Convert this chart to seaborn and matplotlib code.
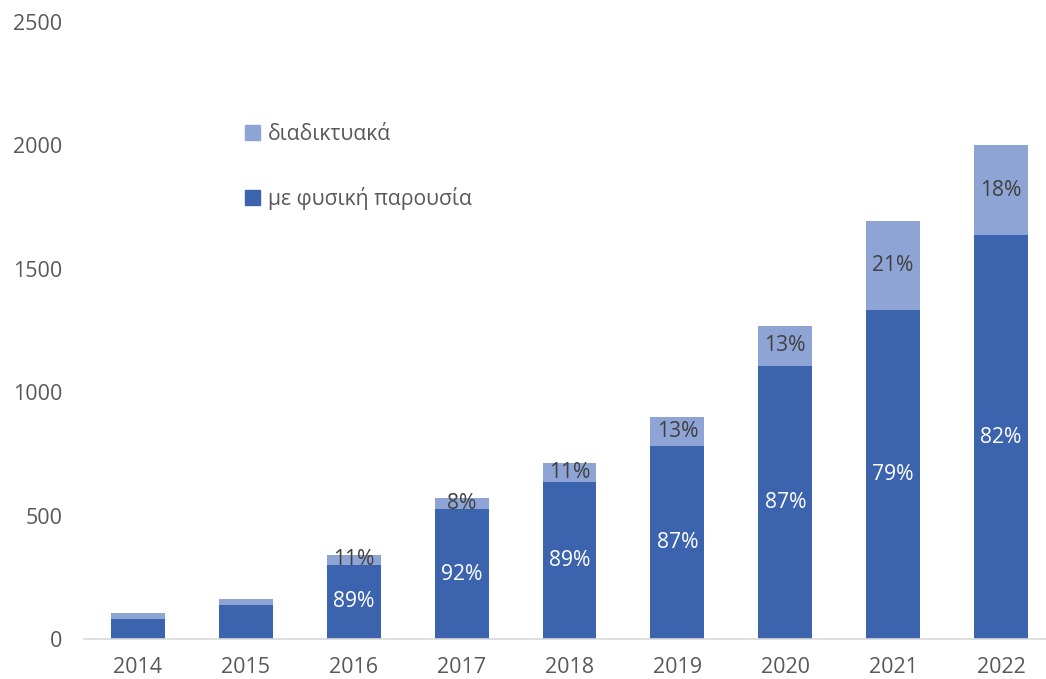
import matplotlib
matplotlib.use("Agg")
import matplotlib.pyplot as plt
import seaborn as sns
import pandas as pd
from matplotlib.patches import Patch

years = ["2014", "2015", "2016", "2017", "2018", "2019", "2020", "2021", "2022"]
in_person = [82, 136, 301, 525, 638, 784, 1105, 1335, 1635]
online = [22, 26, 39, 46, 77, 114, 165, 359, 367]
in_person_pct = ["", "", "89%", "92%", "89%", "87%", "87%", "79%", "82%"]
online_pct = ["", "", "11%", "8%", "11%", "13%", "13%", "21%", "18%"]
yticks = [0, 500, 1000, 1500, 2000, 2500]

sns.set_theme(style="white")
plt.rcParams["font.family"] = ["Open Sans", "DejaVu Sans"]

dark = "#3C64AE"
light = "#8EA4D5"
txt = "#595959"

total = [a + b for a, b in zip(in_person, online)]
df = pd.DataFrame({"year": years, "in_person": in_person, "total": total})

W, H = 1046, 679
fig = plt.figure(figsize=(W / 100, H / 100), dpi=100)
ax = fig.add_axes([84 / W, (H - 639) / H, 971 / W, (639 - 22) / H])

sns.barplot(data=df, x="year", y="total", color=light, width=0.5, ax=ax,
            saturation=1, linewidth=0)
sns.barplot(data=df, x="year", y="in_person", color=dark, width=0.5, ax=ax,
            saturation=1, linewidth=0)

for i in range(len(years)):
    if in_person_pct[i]:
        ax.text(i, in_person[i] / 2, in_person_pct[i], ha="center", va="center",
                color="white", fontsize=15.2)
    if online_pct[i]:
        ax.text(i, in_person[i] + online[i] / 2, online_pct[i], ha="center",
                va="center", color="#404040", fontsize=15.2)

ax.set_xlim(-0.5, 8.5)
ax.set_ylim(0, 2500)
ax.set_yticks(yticks)
ax.set_yticklabels([str(v) for v in yticks])
ax.set_xlabel("")
ax.set_ylabel("")
for s in ["top", "right", "left"]:
    ax.spines[s].set_visible(False)
ax.spines["bottom"].set_color("#D9D9D9")
ax.spines["bottom"].set_linewidth(1.2)
ax.tick_params(axis="both", length=0, labelsize=15.5, colors=txt)
ax.tick_params(axis="y", pad=15.5)
ax.tick_params(axis="x", pad=13)

handles = [Patch(color=light, label="διαδικτυακά"),
           Patch(color=dark, label="με φυσική παρουσία")]
leg = fig.legend(handles=handles, loc="upper left",
                 bbox_to_anchor=(228 / W, 1 - 107 / H), frameon=False,
                 fontsize=15.2, labelspacing=2.0, handlelength=0.7,
                 handleheight=0.7, handletextpad=0.4, labelcolor=txt,
                 borderpad=0.3)

fig.savefig("out.png", dpi=100)
